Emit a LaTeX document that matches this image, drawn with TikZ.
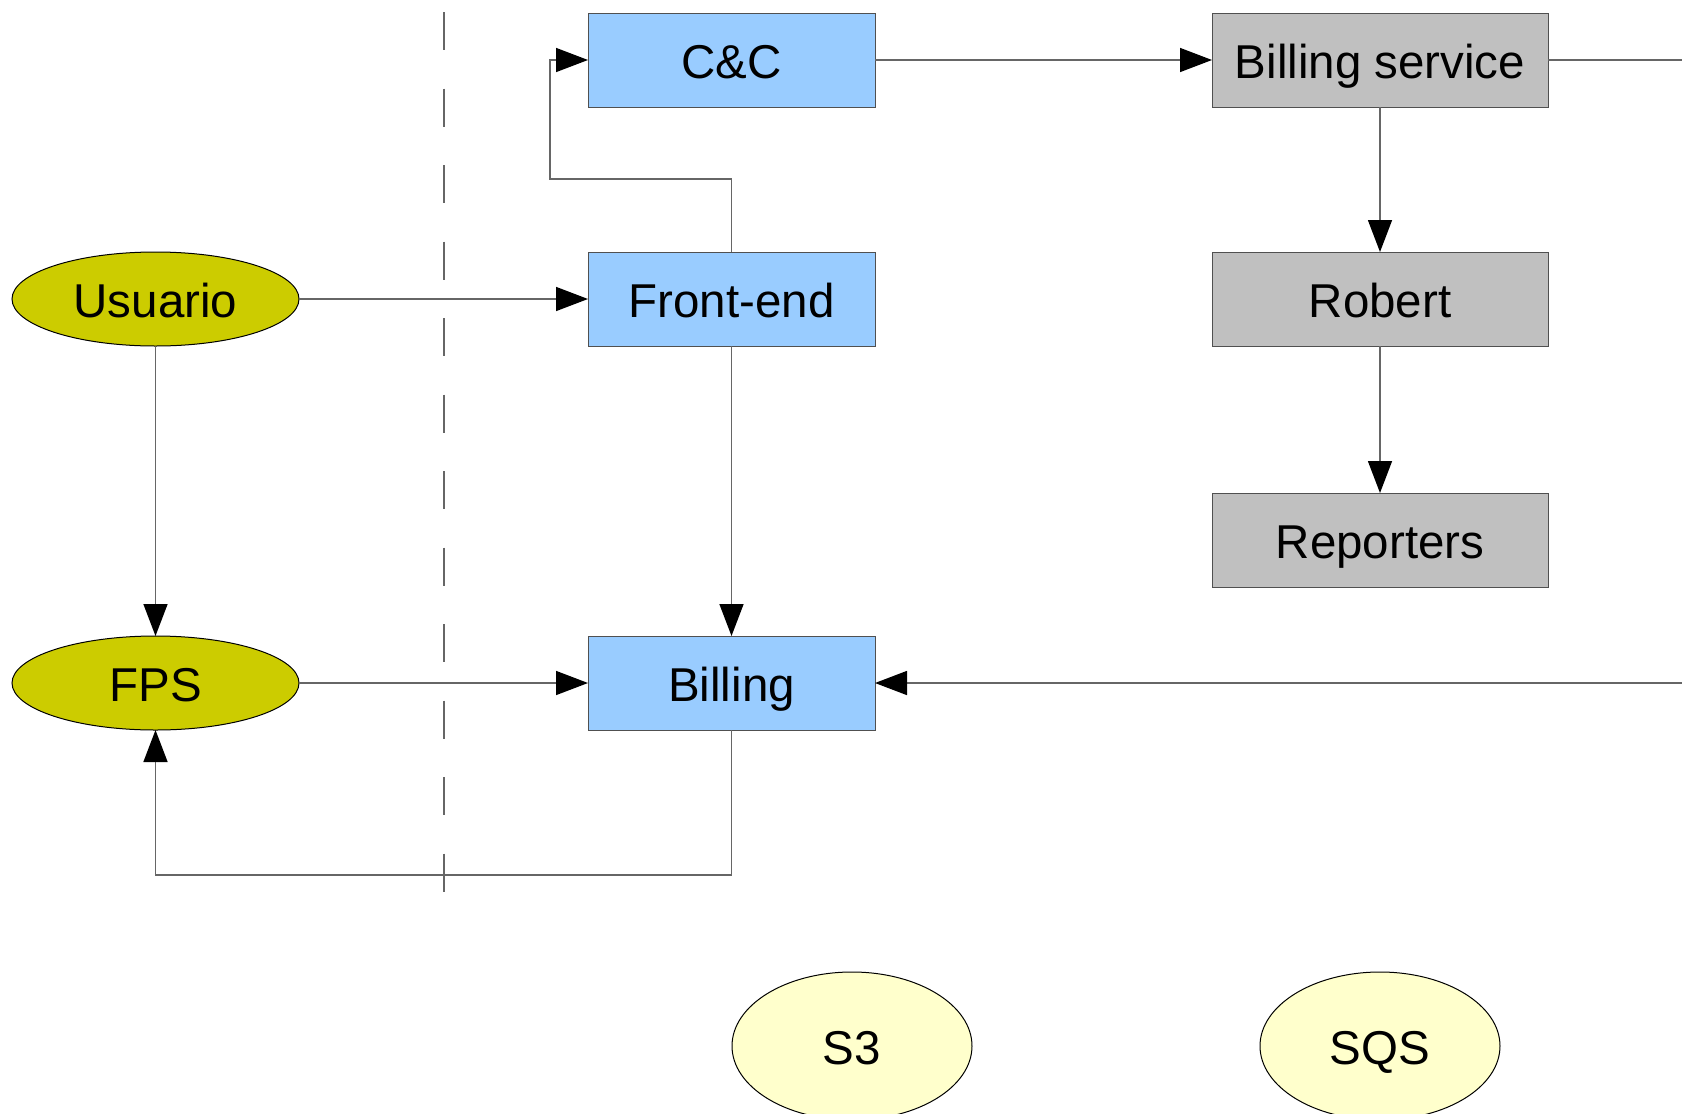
\documentclass[tikz,border=0pt]{standalone}
\usepackage{fontspec}
\setmainfont{Liberation Sans}
\usetikzlibrary{arrows.meta,shapes.geometric}
\definecolor{blueF}{HTML}{99CCFF}
\definecolor{grayF}{HTML}{C0C0C0}
\definecolor{oliveF}{HTML}{CCCC00}
\definecolor{yelF}{HTML}{FFFFCC}
\definecolor{lineC}{HTML}{666666}
\definecolor{borderC}{HTML}{505050}
\tikzset{
  base/.style={font=\fontsize{47.5}{56}\selectfont, inner sep=0pt, outer sep=0pt, line width=1pt, text height=44pt, text depth=7pt},
  bluebox/.style={base, rectangle, draw=borderC, fill=blueF, minimum width=287pt, minimum height=94pt},
  graybox/.style={base, rectangle, draw=borderC, fill=grayF, minimum width=336pt, minimum height=94pt},
  olive/.style={base, ellipse, draw=black, fill=oliveF, minimum width=287pt, minimum height=94pt},
  yel/.style={base, ellipse, draw=black, fill=yelF, minimum width=240pt, minimum height=148pt},
  conn/.style={draw=lineC, line width=1.5pt, -{Triangle[length=32pt,width=24pt,fill=black,color=black]}}
}
\begin{document}
\begin{tikzpicture}[x=1pt,y=-1pt]
\useasboundingbox (0,0) rectangle (1682,1114);
\clip (0,0) rectangle (1682,1114);
\fill[white] (0,0) rectangle (1682,1114);
% dashed separator
\draw[lineC, line width=1.5pt, dash pattern=on 38pt off 38.5pt] (444,12) -- (444,892);
% nodes
\node[bluebox] (cc) at (731.5,60) {C\&C};
\node[bluebox] (fe) at (731.5,299) {Front-end};
\node[bluebox] (bil) at (731.5,683) {Billing};
\node[graybox] (bs) at (1380,60) {Billing service};
\node[graybox] (rob) at (1380,299) {Robert};
\node[graybox] (rep) at (1380,540) {Reporters};
\node[olive] (usu) at (155.5,299) {Usuario};
\node[olive] (fps) at (155.5,683) {FPS};
\node[yel] (s3) at (852,1046) {S3};
\node[yel] (sqs) at (1380,1046) {SQS};
\coordinate (offR) at (1720,60);
% connectors
\draw[conn] (cc.east) -- (bs.west);
\draw[conn] (bs.south) -- (rob.north);
\draw[conn] (rob.south) -- (rep.north);
\draw[conn] (usu.east) -- (fe.west);
\draw[conn] (fe.north) |- (550,179) |- (cc.west);
\draw[conn] (fe.south) -- (bil.north);
\draw[conn] (usu.south) -- (fps.north);
\draw[conn] (fps.east) -- (bil.west);
\draw[conn] (bil.south) -- (731.5,875) -| (fps.south);
\draw[conn] (bs.east) -- (offR) |- (bil.east);
\end{tikzpicture}
\end{document}
